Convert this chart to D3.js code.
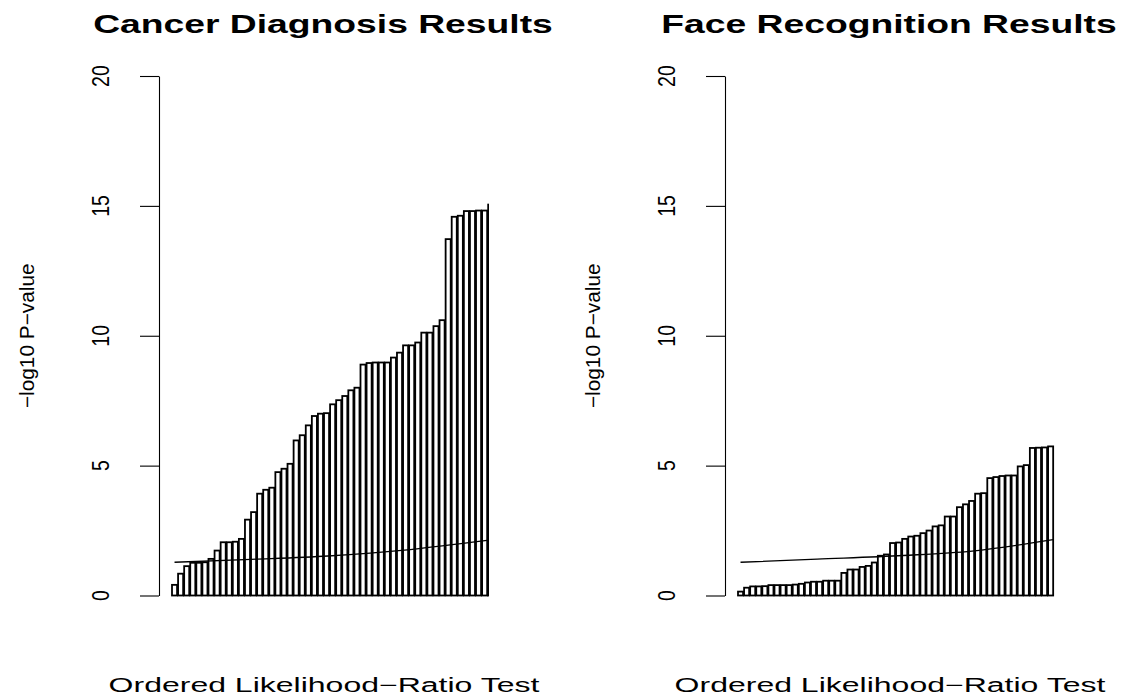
<!DOCTYPE html>
<html>
<head>
<meta charset="utf-8">
<script src="https://cdn.jsdelivr.net/npm/d3@7"></script>
<style>
  body { margin: 0; background: #fff; }
  svg text { font-family: "Liberation Sans", Arial, Helvetica, sans-serif; fill: #000; }
</style>
</head>
<body>
<svg id="chart" width="1125" height="700"></svg>
<script>
var titles = ["Cancer Diagnosis Results", "Face Recognition Results"];
var xLabel = "Ordered Likelihood\u2212Ratio Test";
var yLabel = "\u2212log10 P\u2212value";
var yTicks = [0, 5, 10, 15, 20];

// -log10 p-values, sorted, one per bar
var cancerValues = [0.41, 0.84, 1.13, 1.26, 1.26, 1.28, 1.41, 1.73, 2.05, 2.05,
  2.07, 2.18, 2.92, 3.21, 3.92, 4.07, 4.15, 4.75, 4.88, 5.07,
  5.97, 6.17, 6.55, 6.91, 7.00, 7.02, 7.36, 7.52, 7.68, 7.90,
  8.00, 8.89, 8.95, 8.97, 8.97, 8.97, 9.16, 9.35, 9.63, 9.63,
  9.74, 10.12, 10.12, 10.37, 10.60, 13.72, 14.58, 14.62, 14.80, 14.80,
  14.82, 14.82, 15.05];
var faceValues = [0.15, 0.30, 0.35, 0.35, 0.36, 0.40, 0.40, 0.40, 0.40, 0.42,
  0.45, 0.50, 0.53, 0.53, 0.57, 0.57, 0.57, 0.87, 1.00, 1.00,
  1.10, 1.14, 1.27, 1.53, 1.58, 2.02, 2.04, 2.18, 2.27, 2.30,
  2.40, 2.50, 2.66, 2.70, 3.04, 3.04, 3.40, 3.51, 3.64, 3.92,
  3.94, 4.52, 4.56, 4.60, 4.62, 4.62, 4.97, 5.02, 5.68, 5.69,
  5.70, 5.74];

// threshold curve (x in bar units, y in -log10 p)
var cancerCutX = [0.7, 15.8, 31.0, 47.2, 62.4];
var cancerCutY = [1.28, 1.39, 1.52, 1.77, 2.12];
var faceCutX = [0.7, 15.8, 32.8, 46.4, 62.4];
var faceCutY = [1.28, 1.40, 1.54, 1.71, 2.15];

var panels = [
  { title: titles[0], values: cancerValues, cutX: cancerCutX, cutY: cancerCutY, left: 159 },
  { title: titles[1], values: faceValues, cutX: faceCutX, cutY: faceCutY, left: 725 }
];

var svg = d3.select("#chart"),
    plotW = 330,
    yTop = 76, yBottom = 595.5;

var y = d3.scaleLinear().domain([0, 20]).range([yBottom, yTop]);

// stretch text along its direction to the reference widths
function stretch(sel, k) {
  sel.each(function() {
    var len = this.getComputedTextLength();
    d3.select(this).attr("textLength", len * k).attr("lengthAdjust", "spacingAndGlyphs");
  });
}

panels.forEach(function(p, pi) {
  var x = d3.scaleLinear()
      .domain([-2.366, -2.366 + plotW / 5.067])
      .range([p.left, p.left + plotW]);
  var mid = p.left + 165;

  var clipId = "clip" + pi;
  svg.append("clipPath").attr("id", clipId)
    .append("rect")
      .attr("x", p.left).attr("y", 0)
      .attr("width", plotW).attr("height", 700);

  var g = svg.append("g").attr("clip-path", "url(#" + clipId + ")");

  g.selectAll("rect.bar")
      .data(p.values)
    .enter().append("rect")
      .attr("class", "bar")
      .attr("x", function(d, i) { return x(0.2 + 1.2 * i); })
      .attr("width", x(1) - x(0))
      .attr("y", function(d) { return y(d); })
      .attr("height", function(d) { return y(0) - y(d); })
      .attr("fill", "#fff")
      .attr("stroke", "#000")
      .attr("stroke-width", 1.8);

  var cut = p.cutX.map(function(v, i) { return [v, p.cutY[i]]; });
  g.append("path")
      .datum(cut)
      .attr("fill", "none")
      .attr("stroke", "#000")
      .attr("stroke-width", 1.3)
      .attr("d", d3.line()
        .x(function(d) { return x(d[0]); })
        .y(function(d) { return y(d[1]); })
        .curve(d3.curveMonotoneX));

  var axis = svg.append("g")
      .attr("transform", "translate(" + p.left + ",0)")
      .call(d3.axisLeft(y).tickValues(yTicks).tickSize(19).tickSizeOuter(0).tickFormat(""));
  axis.selectAll("path, line").attr("stroke", "#000").attr("stroke-width", 1.1);

  svg.append("g").selectAll("text")
      .data(yTicks)
    .enter().append("text")
      .attr("transform", function(d) { return "translate(" + (p.left - 58) + "," + y(d) + ") rotate(-90)"; })
      .attr("text-anchor", "middle")
      .attr("dominant-baseline", "central")
      .style("font-size", "23px")
      .text(function(d) { return d; })
      .call(stretch, 0.85);

  svg.append("text")
      .attr("transform", "translate(" + (p.left - 132) + "," + ((yTop + yBottom) / 2) + ") rotate(-90)")
      .attr("text-anchor", "middle")
      .attr("dominant-baseline", "central")
      .style("font-size", "20px")
      .text(yLabel)
      .call(stretch, 1.04);

  svg.append("text")
      .attr("x", mid - 1)
      .attr("y", 33)
      .attr("text-anchor", "middle")
      .style("font-size", "25px")
      .style("font-weight", "bold")
      .text(p.title)
      .call(stretch, 1.49);

  svg.append("text")
      .attr("x", mid)
      .attr("y", 691.5)
      .attr("text-anchor", "middle")
      .style("font-size", "20px")
      .text(xLabel)
      .call(stretch, 1.6);
});
</script>
</body>
</html>
